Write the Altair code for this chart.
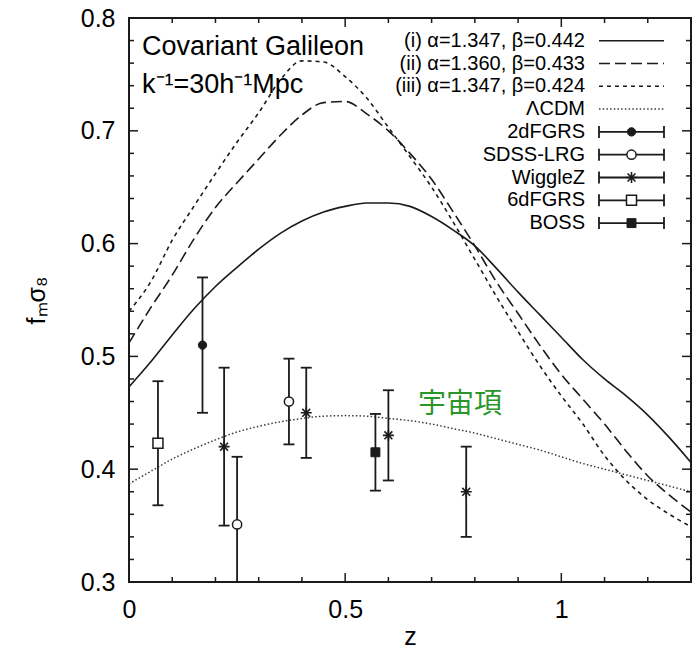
import altair as alt
import pandas as pd

# ---------------- data ----------------
z_grid = [0.0, 0.05, 0.1, 0.15, 0.2, 0.25, 0.3, 0.35, 0.4, 0.45, 0.5, 0.55, 0.6, 0.65,
          0.7, 0.75, 0.8, 0.85, 0.9, 0.95, 1.0, 1.05, 1.1, 1.15, 1.2, 1.25, 1.3]
fs8_model_i = [0.473, 0.495, 0.519, 0.542, 0.562, 0.579, 0.595, 0.609, 0.620, 0.628, 0.633, 0.636,
               0.636, 0.633, 0.624, 0.612, 0.598, 0.578, 0.557, 0.537, 0.517, 0.497, 0.480, 0.465,
               0.448, 0.428, 0.406]
fs8_model_ii = [0.512, 0.543, 0.572, 0.604, 0.632, 0.654, 0.675, 0.696, 0.714, 0.725, 0.726, 0.715,
                0.700, 0.680, 0.657, 0.628, 0.598, 0.566, 0.538, 0.510, 0.484, 0.462, 0.440, 0.416,
                0.394, 0.377, 0.362]
fs8_model_iii = [0.540, 0.566, 0.603, 0.633, 0.662, 0.690, 0.716, 0.745, 0.762, 0.761, 0.748, 0.729,
                 0.703, 0.677, 0.650, 0.619, 0.586, 0.553, 0.522, 0.492, 0.465, 0.440, 0.412, 0.390,
                 0.373, 0.360, 0.349]
fs8_lcdm = [0.387, 0.398, 0.409, 0.418, 0.426, 0.433, 0.438, 0.442, 0.445, 0.447, 0.4475, 0.447,
            0.445, 0.443, 0.440, 0.436, 0.432, 0.427, 0.422, 0.417, 0.411, 0.405, 0.400, 0.395,
            0.390, 0.385, 0.380]

obs_survey = ["6dFGRS", "2dFGRS", "WiggleZ", "SDSS-LRG", "SDSS-LRG", "WiggleZ", "BOSS", "WiggleZ", "WiggleZ"]
obs_z = [0.067, 0.17, 0.22, 0.25, 0.37, 0.41, 0.57, 0.60, 0.78]
obs_fs8 = [0.423, 0.51, 0.42, 0.351, 0.460, 0.45, 0.415, 0.43, 0.38]
obs_err = [0.055, 0.06, 0.07, 0.06, 0.038, 0.04, 0.034, 0.04, 0.04]

model_labels = ["(i) α=1.347, β=0.442", "(ii) α=1.360, β=0.433", "(iii) α=1.347, β=0.424", "ΛCDM"]
survey_labels = ["2dFGRS", "SDSS-LRG", "WiggleZ", "6dFGRS", "BOSS"]

x_tick_major = [0, 0.5, 1.0]
x_tick_minor = [0.1, 0.2, 0.3, 0.4, 0.6, 0.7, 0.8, 0.9, 1.1, 1.2]
y_tick_major = [0.3, 0.4, 0.5, 0.6, 0.7, 0.8]
y_tick_minor = [0.32, 0.34, 0.36, 0.38, 0.42, 0.44, 0.46, 0.48, 0.52, 0.54, 0.56, 0.58,
                0.62, 0.64, 0.66, 0.68, 0.72, 0.74, 0.76, 0.78]

# ---------------- layout / style ----------------
W, H = 562, 564
LEFT, TOP = 129, 18
Z0, Z1 = 0.0, 1.3
V0, V1 = 0.3, 0.8
FONT = "Liberation Sans"
INK = "#1b1b1b"


def z_at(px):
    return Z0 + (px - LEFT) / W * (Z1 - Z0)


def v_at(py):
    return V1 - (py - TOP) / H * (V1 - V0)


xscale = alt.Scale(domain=[Z0, Z1], nice=False, zero=False)
yscale = alt.Scale(domain=[V0, V1], nice=False, zero=False)
xaxis = alt.Axis(values=x_tick_major, format="~g", title="z", grid=False, ticks=False, domain=False,
                 labelFont=FONT, labelFontSize=25, labelColor="black", labelPadding=15, labelFlush=False,
                 titleFont=FONT, titleFontSize=25, titleFontWeight="normal", titleColor="black",
                 titleY=62, titleBaseline="alphabetic")
yaxis = alt.Axis(values=y_tick_major, format=".1f", title="fₘσ₈", grid=False, ticks=False, domain=False,
                 labelFont=FONT, labelFontSize=25, labelColor="black", labelPadding=14, labelFlush=False,
                 titleFont=FONT, titleFontSize=25, titleFontWeight="normal", titleColor="black",
                 titleAngle=270, titleX=-93, titleY=H / 2, titleAlign="center", titleBaseline="middle")


def X(f):
    return alt.X(f, type="quantitative", scale=xscale, axis=xaxis)


def Y(f):
    return alt.Y(f, type="quantitative", scale=yscale, axis=yaxis)


ASTERISK = "M-1,0L1,0M0,-1L0,1M-0.72,-0.72L0.72,0.72M-0.72,0.72L0.72,-0.72"
marker_style = {
    "2dFGRS": dict(shape="circle", size=70, fill=INK, stroke=INK, strokeWidth=1),
    "SDSS-LRG": dict(shape="circle", size=85, fill="white", stroke=INK, strokeWidth=1.5),
    "WiggleZ": dict(shape=ASTERISK, size=120, fill="transparent", stroke=INK, strokeWidth=1.6),
    "6dFGRS": dict(shape="square", size=100, fill="white", stroke=INK, strokeWidth=1.5),
    "BOSS": dict(shape="square", size=80, fill=INK, stroke=INK, strokeWidth=1),
}


def markers(df, survey, xfield):
    st = marker_style[survey]
    return alt.Chart(df).transform_filter(alt.datum.survey == survey).mark_point(
        opacity=1, fillOpacity=1, **st).encode(x=X(xfield), y=Y("v"))


layers = []

# ---------------- model curves ----------------
curve_styles = [
    (fs8_lcdm, dict(strokeDash=[1.5, 2.2], strokeWidth=1.5, color="#3a3a3a")),
    (fs8_model_iii, dict(strokeDash=[4, 4], strokeWidth=1.6, color=INK)),
    (fs8_model_ii, dict(strokeDash=[11, 5], strokeWidth=1.6, color=INK)),
    (fs8_model_i, dict(strokeWidth=1.6, color=INK)),
]
for vals, st in curve_styles:
    df = pd.DataFrame({"z": z_grid, "v": vals})
    layers.append(alt.Chart(df).mark_line(interpolate="monotone", clip=True, **st)
                  .encode(x=X("z"), y=Y("v")))

# ---------------- observations ----------------
obs = pd.DataFrame({"survey": obs_survey, "z": obs_z, "v": obs_fs8, "e": obs_err})
obs["lo"] = obs["v"] - obs["e"]
obs["hi"] = obs["v"] + obs["e"]
layers.append(alt.Chart(obs).mark_rule(color=INK, strokeWidth=1.8, clip=True)
              .encode(x=X("z"), y=Y("lo"), y2="hi"))
for end in ["lo", "hi"]:
    layers.append(alt.Chart(obs).mark_tick(orient="horizontal", size=11, thickness=1.8,
                                           color=INK, opacity=1, clip=True)
                  .encode(x=X("z"), y=Y(end)))
for s in survey_labels:
    layers.append(markers(obs, s, "z"))

# ---------------- legend ----------------
LEG_Y0, LEG_DY = 40.7, 22.8
TXT_R, SMP_A, SMP_B, SMP_M = 585, 599, 664, 631.5
all_labels = model_labels + survey_labels
leg = pd.DataFrame({
    "label": all_labels,
    "v": [v_at(LEG_Y0 + LEG_DY * i) for i in range(len(all_labels))],
})
leg["tx"] = z_at(TXT_R)
leg["x1"] = z_at(SMP_A)
leg["x2"] = z_at(SMP_B)
leg["xm"] = z_at(SMP_M)
leg["survey"] = leg["label"]

layers.append(alt.Chart(leg).mark_text(align="right", baseline="middle", font=FONT, fontSize=20,
                                       color="black")
              .encode(x=X("tx"), y=Y("v"), text="label:N"))
for lab, (vals, st) in zip(model_labels, curve_styles[::-1]):
    layers.append(alt.Chart(leg).transform_filter(alt.datum.label == lab)
                  .mark_rule(**st).encode(x=X("x1"), x2="x2", y=Y("v")))
leg_s = leg[leg["label"].isin(survey_labels)]
layers.append(alt.Chart(leg_s).mark_rule(color=INK, strokeWidth=1.8)
              .encode(x=X("x1"), x2="x2", y=Y("v")))
for end in ["x1", "x2"]:
    layers.append(alt.Chart(leg_s).mark_tick(orient="vertical", size=12, thickness=1.8,
                                             color=INK, opacity=1)
                  .encode(x=X(end), y=Y("v")))
for s in survey_labels:
    layers.append(markers(leg_s, s, "xm"))

# ---------------- annotations ----------------
notes = pd.DataFrame({
    "text": ["Covariant Galileon", "k⁻¹=30h⁻¹Mpc"],
    "x": [z_at(142), z_at(142)],
    "v": [v_at(55), v_at(93)],
})
layers.append(alt.Chart(notes).mark_text(align="left", baseline="alphabetic", font=FONT,
                                         fontSize=27, color="black")
              .encode(x=X("x"), y=Y("v"), text="text:N"))
jp = pd.DataFrame({"text": ["宇宙項"], "x": [z_at(460)], "v": [v_at(405)]})
layers.append(alt.Chart(jp).mark_text(align="center", baseline="middle", font="Noto Sans CJK JP",
                                      fontSize=28, color="#2a962a")
              .encode(x=X("x"), y=Y("v"), text="text:N"))

# ---------------- inward ticks on all four sides ----------------
for vals, ln in [(y_tick_major, 9), (y_tick_minor, 5)]:
    df = pd.DataFrame({"v": vals})
    layers.append(alt.Chart(df).mark_rule(color=INK, strokeWidth=1.5)
                  .encode(y=Y("v"), x=alt.value(0), x2=alt.value(ln)))
    layers.append(alt.Chart(df).mark_rule(color=INK, strokeWidth=1.5)
                  .encode(y=Y("v"), x=alt.value(W), x2=alt.value(W - ln)))
for vals, ln in [(x_tick_major, 9), (x_tick_minor, 5)]:
    df = pd.DataFrame({"z": vals})
    layers.append(alt.Chart(df).mark_rule(color=INK, strokeWidth=1.5)
                  .encode(x=X("z"), y=alt.value(H), y2=alt.value(H - ln)))
    layers.append(alt.Chart(df).mark_rule(color=INK, strokeWidth=1.5)
                  .encode(x=X("z"), y=alt.value(0), y2=alt.value(ln)))

chart = alt.layer(*layers).properties(
    width=W, height=H,
    autosize=alt.AutoSizeParams(type="none"),
    padding={"left": LEFT, "top": TOP, "right": 692 - LEFT - W, "bottom": 650 - TOP - H},
    background="white",
).configure_view(stroke=INK, strokeWidth=2)

chart.save("out.html", embed_options={"renderer": "svg", "actions": False})
